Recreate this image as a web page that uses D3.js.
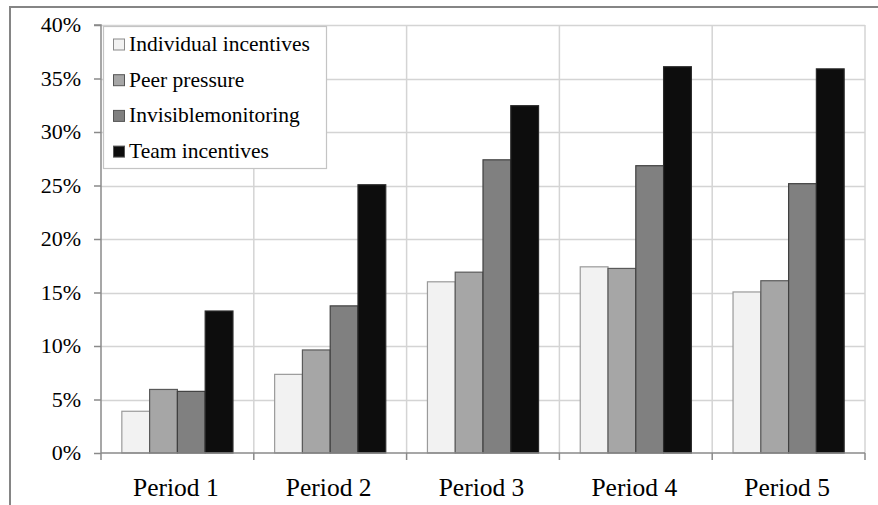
<!DOCTYPE html>
<html><head><meta charset="utf-8">
<script src="https://cdnjs.cloudflare.com/ajax/libs/d3/7.8.5/d3.min.js"></script>
<style>
@font-face{font-family:"RefSerif";src:local("Liberation Serif"),local("LiberationSerif"),local("LiberationSerif-Regular"),local("Liberation Serif Regular");}
body{margin:0;background:#fff;font-family:"Liberation Serif",serif}
svg{display:block;font-family:"Liberation Serif","RefSerif",serif}
</style>
</head><body>
<svg id="c" width="878" height="505"></svg>
<script>
const categories = ["Period 1","Period 2","Period 3","Period 4","Period 5"];
const seriesNames = ["Individual incentives","Peer pressure","Invisiblemonitoring","Team incentives"];
const individual = [0.039,0.0735,0.160,0.174,0.1505];
const peer = [0.0594,0.0963,0.169,0.1725,0.161];
const invisible = [0.0576,0.1375,0.274,0.2685,0.2517];
const team = [0.1327,0.2507,0.3246,0.361,0.359];
const yTicks = [0,0.05,0.10,0.15,0.20,0.25,0.30,0.35,0.40];
const fills = ["#f2f2f2","#a6a6a6","#808080","#0d0d0d"];
const strokes = ["#9a9a9a","#5a5a5a","#404040","#2a2a2a"];

const FONT = "Liberation Serif";
const series = [individual, peer, invisible, team];
const svg = d3.select("#c");
const L=101, R=865, T=25, B=453;
const x = d3.scaleBand().domain(categories).range([L,R]).paddingInner(0).paddingOuter(0);
const xs = d3.scaleBand().domain(d3.range(4)).range([0,x.bandwidth()]).paddingInner(0).paddingOuter(0.75);
const y = d3.scaleLinear().domain([0,0.40]).range([B,T]);
const fmt = d3.format(".0%");

// text first (as in the working test), then graphics beneath via insert
const textLayer = svg.append("g").attr("id","texts");
const gfx = svg.insert("g","#texts");

gfx.append("line").attr("x1",10).attr("x2",878).attr("y1",7).attr("y2",7).attr("stroke","#858585").attr("stroke-width",2);
gfx.append("line").attr("x1",10).attr("x2",10).attr("y1",6).attr("y2",505).attr("stroke","#858585").attr("stroke-width",2);

gfx.append("g").selectAll("line").data(yTicks.slice(1)).join("line")
  .attr("x1",L).attr("x2",R).attr("y1",d=>Math.round(y(d))+0.5).attr("y2",d=>Math.round(y(d))+0.5)
  .attr("stroke","#d4d4d4").attr("stroke-width",1.5);
const bounds = categories.map(c=>x(c)).concat([R]);
gfx.append("g").selectAll("line").data(bounds.slice(1)).join("line")
  .attr("x1",d=>d).attr("x2",d=>d).attr("y1",T).attr("y2",B)
  .attr("stroke","#d4d4d4").attr("stroke-width",1.5);

series.forEach((vals,si)=>{
  gfx.append("g").selectAll("rect").data(vals).join("rect")
    .attr("x",(d,i)=>x(categories[i])+xs(si))
    .attr("width",xs.bandwidth())
    .attr("y",d=>y(d))
    .attr("height",d=>B-y(d))
    .attr("fill",fills[si]).attr("stroke",strokes[si]).attr("stroke-width",1.2);
});

const ga = gfx.append("g").attr("transform",`translate(${L},0)`)
  .call(d3.axisLeft(y).tickValues(yTicks).tickSize(7).tickFormat(""));
ga.attr("font-family",null);
ga.select(".domain").attr("stroke","#8a8a8a").attr("stroke-width",1.5).attr("d",`M-7,${T}H0V${B}`);
ga.selectAll(".tick line").attr("stroke","#8a8a8a").attr("stroke-width",1.5);
ga.selectAll(".tick text").remove();

const gx = gfx.append("g").attr("transform",`translate(0,${B})`)
  .call(d3.axisBottom(x).tickSize(0).tickFormat(""));
gx.attr("font-family",null);
gx.select(".domain").remove();
gx.selectAll(".tick text").remove();
gfx.append("line").attr("x1",L).attr("x2",R).attr("y1",B).attr("y2",B).attr("stroke","#8a8a8a").attr("stroke-width",1.5);
gfx.append("g").selectAll("line").data(bounds).join("line")
  .attr("x1",d=>d).attr("x2",d=>d).attr("y1",B).attr("y2",B+7).attr("stroke","#8a8a8a").attr("stroke-width",1.5);

gfx.append("rect").attr("x",103.5).attr("y",26.5).attr("width",223).attr("height",142)
  .attr("fill","#fff").attr("stroke","#c4c4c4").attr("stroke-width",1.2);
gfx.selectAll("rect.sw").data(seriesNames).join("rect").attr("class","sw")
  .attr("x",113.5).attr("y",(d,i)=>39+i*35.7).attr("width",11).attr("height",11)
  .attr("fill",(d,i)=>fills[i]).attr("stroke",(d,i)=>i===0?"#8a8a8a":"#555").attr("stroke-width",1);

// texts
textLayer.selectAll("text.ylab").data(yTicks).join("text").attr("class","ylab")
  .attr("x",81).attr("y",d=>y(d)+7).attr("text-anchor","end")
  .attr("font-family",FONT).attr("font-size",22).text(d=>fmt(d));
textLayer.selectAll("text.xlab").data(categories).join("text").attr("class","xlab")
  .attr("x",d=>x(d)+x.bandwidth()/2-1.5).attr("y",495.5).attr("text-anchor","middle")
  .attr("font-family",FONT).attr("font-size",25.5).text(d=>d);
textLayer.selectAll("text.leg").data(seriesNames).join("text").attr("class","leg")
  .attr("x",129).attr("y",(d,i)=>51+i*35.7)
  .attr("font-family",FONT).attr("font-size",21.5).text(d=>d);
</script>
</body></html>
